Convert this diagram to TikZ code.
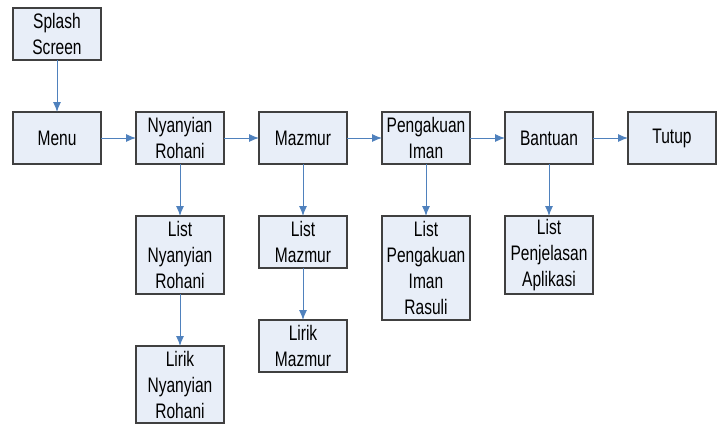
\documentclass[tikz,border=0pt]{standalone}
\usepackage{fontspec}
\setmainfont[FakeStretch=0.74]{Liberation Sans}
\usepackage{xcolor}
\definecolor{boxfill}{RGB}{232,238,248}
\definecolor{boxline}{RGB}{64,64,64}
\definecolor{arrowblue}{RGB}{79,129,189}
\usetikzlibrary{positioning, arrows.meta}
\tikzstyle{Box} = [
draw=boxline,
fill=boxfill,
line width=1.3pt,
minimum width=88pt,
minimum height=52pt,
outer sep=0pt,
align=center,
inner sep=0pt,
font=\fontsize{21}{26}\selectfont]
\tikzstyle{Arrow} = [
draw=arrowblue,
line width=1pt,
-{Latex[length=10pt,width=8pt]}]

\begin{document}
\begin{tikzpicture}[node distance=52pt and 35pt]
    \useasboundingbox (0,0) rectangle (720pt,-424pt);
    \node [Box] (splash) at (57pt,-34pt) {Splash\\Screen};
    \node [Box, below =of splash] (menu) {Menu};
    \node [Box, right =of menu] (nyanyian) {Nyanyian\\Rohani};
    \node [Box, right =of nyanyian] (mazmur) {Mazmur};
    \node [Box, right =of mazmur] (pengakuan) {Pengakuan\\Iman};
    \node [Box, right =of pengakuan] (bantuan) {Bantuan};
    \node [Box, right =of bantuan] (tutup) {Tutup};
    \node [Box, minimum height=78pt, below =of nyanyian] (listnyanyian) {List\\Nyanyian\\Rohani};
    \node [Box, minimum height=77pt, below =of listnyanyian] (liriknyanyian) {Lirik\\Nyanyian\\Rohani};
    \node [Box, below =of mazmur] (listmazmur) {List\\Mazmur};
    \node [Box, below =of listmazmur] (lirikmazmur) {Lirik\\Mazmur};
    \node [Box, minimum height=104pt, below =of pengakuan] (listpengakuan) {List\\Pengakuan\\Iman\\Rasuli};
    \node [Box, minimum height=78pt, below =of bantuan] (listbantuan) {List\\Penjelasan\\Aplikasi};

    \draw[Arrow] (splash.south)--(menu.north);
    \draw[Arrow] (menu.east)--(nyanyian.west);
    \draw[Arrow] (nyanyian.east)--(mazmur.west);
    \draw[Arrow] (mazmur.east)--(pengakuan.west);
    \draw[Arrow] (pengakuan.east)--(bantuan.west);
    \draw[Arrow] (bantuan.east)--(tutup.west);
    \draw[Arrow] (nyanyian.south)--(listnyanyian.north);
    \draw[Arrow] (listnyanyian.south)--(liriknyanyian.north);
    \draw[Arrow] (mazmur.south)--(listmazmur.north);
    \draw[Arrow] (listmazmur.south)--(lirikmazmur.north);
    \draw[Arrow] (pengakuan.south)--(listpengakuan.north);
    \draw[Arrow] (bantuan.south)--(listbantuan.north);
\end{tikzpicture}
\end{document}
